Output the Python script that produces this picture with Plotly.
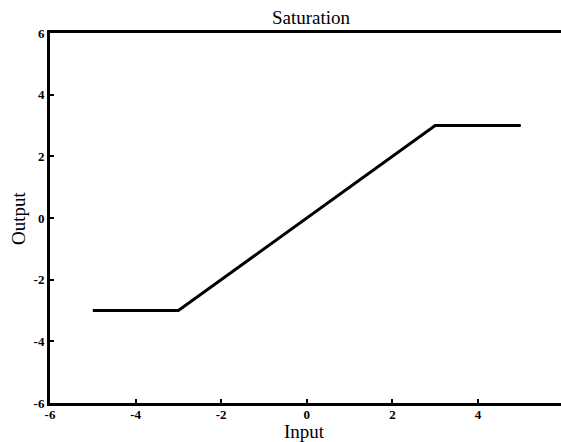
import plotly.graph_objects as go

# saturation characteristic
x_in = [-5, -3, 3, 5]
y_out = [-3, -3, 3, 3]
tick_vals = [-6, -4, -2, 0, 2, 4, 6]
tick_text = ["-6", "-4", "-2", "0", "2", "4", "6"]

serif = "Liberation Serif, Times New Roman, serif"

fig = go.Figure()
fig.add_trace(go.Scatter(
    x=x_in, y=y_out, mode="lines",
    line=dict(color="black", width=3),
    showlegend=False,
))

fig.update_layout(
    width=561, height=442,
    margin=dict(l=50, r=0, t=33, b=39, autoexpand=False),
    paper_bgcolor="white", plot_bgcolor="white",
    font=dict(family=serif, color="black"),
    annotations=[
        dict(text="Saturation", x=0.512, y=1, xref="paper", yref="paper",
             yshift=3, xanchor="center", yanchor="bottom", showarrow=False,
             font=dict(family=serif, size=19, color="black")),
        dict(text="Input", x=0.498, y=0, xref="paper", yref="paper",
             yshift=-16, xanchor="center", yanchor="top", showarrow=False,
             font=dict(family=serif, size=19, color="black")),
        dict(text="Output", x=0, y=0.5, xref="paper", yref="paper",
             xshift=-32, xanchor="center", yanchor="middle", textangle=-90,
             showarrow=False, font=dict(family=serif, size=19, color="black")),
    ],
)

fig.update_xaxes(
    range=[-6, 5.94], tickvals=tick_vals, ticktext=tick_text,
    ticks="inside", ticklen=4, tickwidth=2, tickcolor="black",
    showline=True, linecolor="black", linewidth=3, mirror=True,
    showgrid=False, zeroline=False, automargin=False, ticklabelstandoff=-3,
    tickfont=dict(family=serif, size=13, color="black", weight="bold"),
)
fig.update_yaxes(
    range=[-6, 6], tickvals=tick_vals, ticktext=tick_text,
    ticks="inside", ticklen=4, tickwidth=2, tickcolor="black",
    showline=True, linecolor="black", linewidth=3,
    showgrid=False, zeroline=False, automargin=False,
    tickfont=dict(family=serif, size=13, color="black", weight="bold"),
)

fig.write_html("out.html", config={"displayModeBar": False},
               post_script="document.body.style.margin='0';")
